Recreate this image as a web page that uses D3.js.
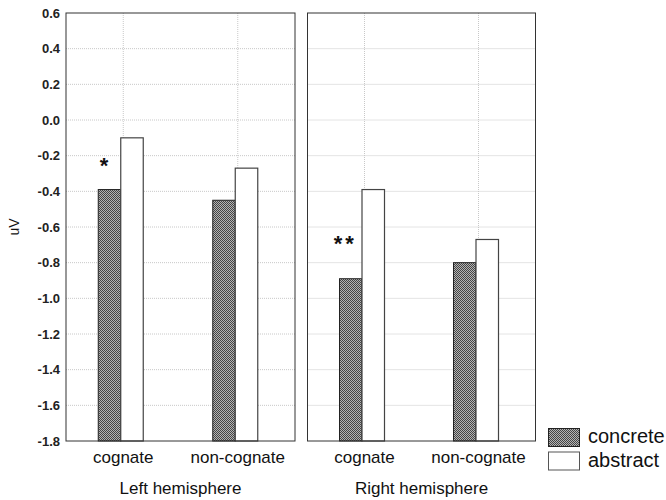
<!DOCTYPE html>
<html><head><meta charset="utf-8">
<script src="https://cdn.jsdelivr.net/npm/d3@7"></script>
<style>body{margin:0;background:#fff;} text{font-family:"Liberation Sans",Arial,sans-serif;}</style>
</head><body>
<svg id="c" width="666" height="500"></svg>
<script>
const hemispheres = ["Left hemisphere", "Right hemisphere"];
const categories = ["cognate", "non-cognate"];
const seriesNames = ["concrete", "abstract"];
const concreteValues = [[-0.39, -0.45], [-0.89, -0.80]];
const abstractValues = [[-0.10, -0.27], [-0.39, -0.67]];
const yTicks = [0.6, 0.4, 0.2, 0.0, -0.2, -0.4, -0.6, -0.8, -1.0, -1.2, -1.4, -1.6, -1.8];
const significance = [["*", ""], ["**", ""]];
const significanceLevel = [[-0.23, null], [-0.67, null]];

(function () {
const svg = d3.select("#c");
const defs = svg.append("defs");
const pat = defs.append("pattern").attr("id", "hatch").attr("patternUnits", "userSpaceOnUse")
  .attr("width", 2).attr("height", 2);
pat.append("rect").attr("width", 2).attr("height", 2).attr("fill", "#b4b4b4");
pat.append("rect").attr("x", 0).attr("y", 0).attr("width", 1).attr("height", 1).attr("fill", "#454545");
pat.append("rect").attr("x", 1).attr("y", 1).attr("width", 1).attr("height", 1).attr("fill", "#454545");

const plotTop = 13, plotBottom = 441;
const y = d3.scaleLinear().domain([-1.8, 0.6]).range([plotBottom, plotTop]);
const panels = [{x0: 66, x1: 295}, {x0: 307.5, x1: 535.5}];

panels.forEach((p, pi) => {
  const g = svg.append("g");
  const x = d3.scaleBand().domain(categories).range([p.x0, p.x1]);
  const bw = 22.5;
  g.selectAll(".hg").data(yTicks.slice(1, -1)).enter().append("line")
    .attr("x1", p.x0).attr("x2", p.x1).attr("y1", d => y(d)).attr("y2", d => y(d))
    .attr("stroke", "#c8c8c8").attr("stroke-dasharray", "1,1");
  g.selectAll(".vg").data(categories).enter().append("line")
    .attr("x1", d => x(d) + x.bandwidth() / 2).attr("x2", d => x(d) + x.bandwidth() / 2)
    .attr("y1", plotTop).attr("y2", plotBottom)
    .attr("stroke", "#c8c8c8").attr("stroke-dasharray", "1,1");
  categories.forEach((c, ci) => {
    const cx = x(c) + x.bandwidth() / 2 - 2.5;
    const cv = concreteValues[pi][ci], av = abstractValues[pi][ci];
    g.append("rect").attr("x", cx - bw).attr("width", bw)
      .attr("y", y(cv)).attr("height", y(-1.8) - y(cv))
      .attr("fill", "url(#hatch)").attr("stroke", "#222").attr("stroke-width", 1);
    g.append("rect").attr("x", cx).attr("width", bw)
      .attr("y", y(av)).attr("height", y(-1.8) - y(av))
      .attr("fill", "#fff").attr("stroke", "#444").attr("stroke-width", 1.2);
    if (significance[pi][ci]) {
      g.append("text").attr("x", cx - bw / 2 - 5.5).attr("y", y(significanceLevel[pi][ci]) + 12)
        .attr("text-anchor", "middle").attr("font-size", 22).attr("font-weight", "bold")
        .attr("letter-spacing", significance[pi][ci].length > 1 ? 3 : 0)
        .attr("fill", "#111")
        .text(significance[pi][ci]);
    }
  });
  g.selectAll(".cl").data(categories).enter().append("text")
    .attr("x", d => x(d) + x.bandwidth() / 2).attr("y", 462.5)
    .attr("text-anchor", "middle").attr("font-size", 17).attr("fill", "#111").text(d => d);
  g.append("text").attr("x", (p.x0 + p.x1) / 2).attr("y", 494)
    .attr("text-anchor", "middle").attr("font-size", 17).attr("fill", "#111").text(hemispheres[pi]);
  g.append("rect").attr("x", p.x0).attr("y", plotTop).attr("width", p.x1 - p.x0).attr("height", plotBottom - plotTop)
    .attr("fill", "none").attr("stroke", "#333").attr("stroke-width", 1);
});

const fmt = d3.format(".1f");
const yAxis = d3.axisLeft(y).tickValues(yTicks).tickFormat(d => fmt(d).replace("\u2212", "-")).tickSize(0).tickPadding(6);
const ag = svg.append("g").attr("transform", "translate(66,0)").call(yAxis);
ag.select(".domain").remove();
ag.selectAll("text").attr("font-size", 13).attr("font-weight", "bold").attr("fill", "#222")
  .style("font-family", "Liberation Sans, Arial, sans-serif");

svg.append("text").attr("transform", "translate(19,227) rotate(-90)").attr("text-anchor", "middle")
  .attr("font-size", 14).attr("fill", "#111").text("uV");

const lg = svg.append("g").attr("transform", "translate(548,428)");
seriesNames.forEach((s, i) => {
  lg.append("rect").attr("x", 0.5).attr("y", i * 23.5 + 0.5).attr("width", 31).attr("height", 18)
    .attr("fill", i === 0 ? "url(#hatch)" : "#fff").attr("stroke", i === 0 ? "#222" : "#555");
  lg.append("text").attr("x", 40).attr("y", i * 23.5 + 15).attr("font-size", 20).attr("fill", "#111").text(s);
});
})();
</script>
</body></html>
